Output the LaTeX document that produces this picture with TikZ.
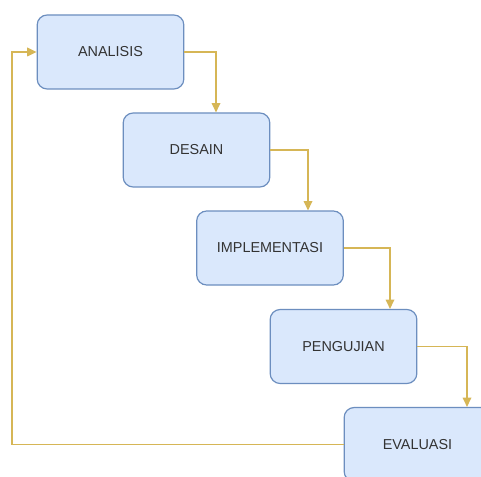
\documentclass[tikz,border=0pt]{standalone}
\usepackage{fontspec}
\setmainfont{Liberation Sans}
\usetikzlibrary{arrows.meta}
\definecolor{boxfill}{HTML}{DAE8FC}
\definecolor{boxline}{HTML}{6C8EBF}
\definecolor{flow}{HTML}{D6B656}
\definecolor{labeltext}{HTML}{333333}
\begin{document}
\begin{tikzpicture}[x=0.75pt,y=-0.75pt,
  stage/.style={draw=boxline, fill=boxfill, line width=0.9pt, rounded corners=7.5pt,
    minimum width=110pt, minimum height=55.5pt, inner sep=0pt,
    font=\fontsize{10.8}{13}\selectfont, text=labeltext},
  flowline/.style={draw=flow, line width=0.9pt, -{Triangle[length=7pt,width=6.5pt]}}]
\useasboundingbox (0,0) rectangle (481,477);
\fill[white] (0,0) rectangle (481,477);
\begin{scope}
\clip (0,0) rectangle (481,477);
\node[stage] (ana) at (110.5,52) {ANALISIS};
\node[stage] (des) at (196.5,150) {DESAIN};
\node[stage] (imp) at (270,248) {IMPLEMENTASI};
\node[stage] (pen) at (343.5,346.5) {PENGUJIAN};
\node[stage] (eva) at (417.5,444.5) {EVALUASI};
\coordinate (back) at (12,0);
\draw[flowline] (ana.east) -| ([xshift=19.5*0.75pt]des.north);
\draw[flowline] (des.east) -| ([xshift=38*0.75pt]imp.north);
\draw[flowline] (imp.east) -| ([xshift=46.5*0.75pt]pen.north);
\draw[flowline] (pen.east) -| ([xshift=49.5*0.75pt]eva.north);
\draw[flowline] (eva.west) -| (back |- ana.west) -- (ana.west);
\end{scope}
\end{tikzpicture}
\end{document}
